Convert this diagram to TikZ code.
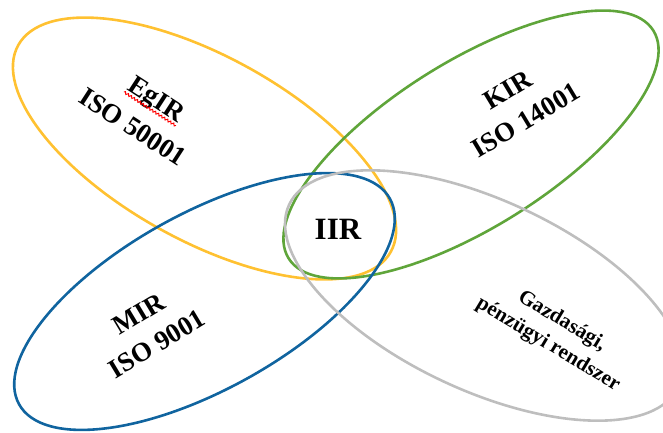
\documentclass[tikz,border=0pt]{standalone}
\usepackage{fontspec}
\setmainfont{Liberation Serif}
\usetikzlibrary{calc,decorations.pathmorphing}

\definecolor{ringyellow}{HTML}{FFC131}
\definecolor{ringgreen}{HTML}{5FA53A}
\definecolor{ringblue}{HTML}{10649F}
\definecolor{ringgray}{HTML}{BEBEBE}

\tikzset{
  ring/.style={line width=2.6pt},
  biglabel/.style={font=\bfseries\fontsize{27}{35}\selectfont, align=center, inner sep=0pt},
  smalllabel/.style={font=\bfseries\fontsize{21}{27}\selectfont, align=center, inner sep=0pt},
  corelabel/.style={font=\bfseries\fontsize{31}{36}\selectfont, inner sep=0pt},
  spellmark/.style={draw=red, line width=1pt, decorate,
    decoration={snake, amplitude=1.1pt, segment length=3.6pt}}
}

\begin{document}
\begin{tikzpicture}[x=1pt,y=1pt]
  \useasboundingbox (0,0) rectangle (663,432);
  \clip (0,0) rectangle (663,432);

  % four management-system rings
  \draw[ring, ringyellow, shift={(204.5,283.5)}, rotate=-29]
    (0,0) ellipse [x radius=213pt, y radius=92pt];
  \draw[ring, ringgreen, shift={(471,287.5)}, rotate=32]
    (0,0) ellipse [x radius=215pt, y radius=83pt];
  \draw[ring, ringblue, shift={(204.5,130.5)}, rotate=29]
    (0,0) ellipse [x radius=212pt, y radius=88pt];
  \draw[ring, ringgray, shift={(484,136.5)}, rotate=-25]
    (0,0) ellipse [x radius=215pt, y radius=95pt];

  % labels
  \node[biglabel, rotate=-33] (egir) at (155,331) {EgIR};
  \node[biglabel, rotate=-33] (iso5) at (133,305) {ISO 50001};
  \draw[spellmark]
    ($(egir.base west)!3.5pt!-90:(egir.base east)$) --
    ($(egir.base east)!3.5pt!90:(egir.base west)$);

  \node[biglabel, rotate=31] (kir) at (517,327) {KIR\\ISO 14001};
  \node[biglabel, rotate=31] (mir) at (148,103) {MIR\\ISO 9001};
  \node[smalllabel, rotate=-31] (gazd) at (555,99) {Gazdasági,\\pénzügyi rendszer};
  \node[corelabel] (iir) at (338,203) {IIR};
\end{tikzpicture}
\end{document}
